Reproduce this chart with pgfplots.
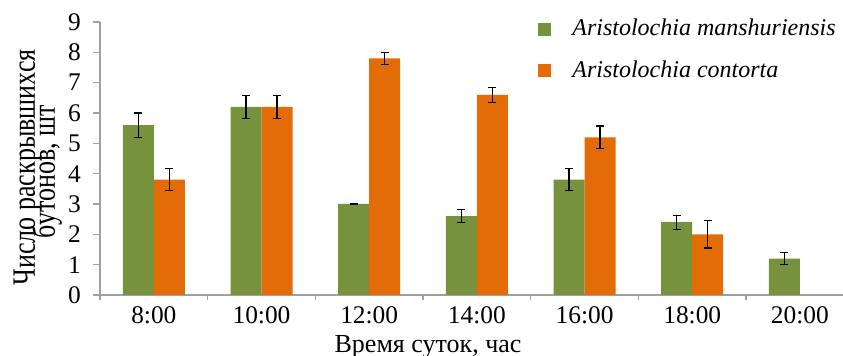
\documentclass[border=0pt]{standalone}
\usepackage{fontspec}
\setmainfont{Liberation Serif}
\newfontfamily\serif{Liberation Serif}
\usepackage{graphicx}
\usepackage{pgfplots}
\usetikzlibrary{calc}
\pgfplotsset{compat=1.18}
\definecolor{grn}{HTML}{76923C}
\definecolor{org}{HTML}{E36C09}
\definecolor{axgray}{HTML}{A0A0A0}
\begin{document}
\begin{tikzpicture}
\begin{axis}[
  name=ax,
  scale only axis, width=371.5pt, height=136.5pt,
  xmin=-0.5, xmax=6.4, ymin=0, ymax=9,
  axis lines*=left,
  axis line style={draw=axgray, line width=0.6pt},
  tick align=outside,
  ytick={0,...,9},
  xtick={0,...,6},
  xticklabels={8:00,10:00,12:00,14:00,16:00,18:00,20:00},
  minor xtick={-0.5,0.5,...,5.5},
  major x tick style={draw=none},
  minor x tick style={draw=axgray, line width=0.6pt},
  major y tick style={draw=axgray, line width=0.6pt},
  major tick length=3.5pt,
  minor tick length=2.5pt,
  /pgf/number format/assume math mode=true,
  ticklabel style={font=\serif\fontsize{12.7}{15}\selectfont},
  yticklabel style={xshift=-2.5pt},
  xticklabel style={yshift=1pt},
  label style={font=\serif\fontsize{13}{15}\selectfont},
  xlabel={Время суток, час},
  xlabel style={at={(axis description cs:0.4415,0)}, anchor=base, yshift=-29pt},
  ybar=0pt, bar width=15.5pt,
  legend style={at={(axis description cs:0.5895,1.026)}, anchor=north west, draw=none, fill=none,
    inner sep=0pt, font=\serif\fontsize{12}{14}\itshape\selectfont, row sep=7pt,
    /tikz/every odd column/.append style={column sep=8.5pt}},
  legend cell align=left,
  legend image code/.code={\path[#1,draw=none] (0pt,-3.25pt) rectangle (6.5pt,3.25pt);},
  error bars/y dir=both, error bars/y explicit,
  error bars/error bar style={black, line width=0.6pt},
  error bars/error mark options={rotate=90, mark size=2pt, black, line width=0.6pt},
]
\addplot[fill=grn, draw=none] coordinates {
  (0,5.6) +- (0,0.4)
  (1,6.2) +- (0,0.37)
  (2,3.0) +- (0,0.0)
  (3,2.6) +- (0,0.22)
  (4,3.8) +- (0,0.36)
  (5,2.4) +- (0,0.23)
  (6,1.2) +- (0,0.2)
};
\addplot[fill=org, draw=none] coordinates {
  (0,3.8) +- (0,0.36)
  (1,6.2) +- (0,0.37)
  (2,7.8) +- (0,0.2)
  (3,6.6) +- (0,0.25)
  (4,5.2) +- (0,0.37)
  (5,2.0) +- (0,0.45)
};
\legend{Aristolochia manshuriensis, Aristolochia contorta}
\end{axis}
\node[rotate=90, anchor=base, inner sep=0pt, font=\serif\fontsize{13}{15}\selectfont]
  at ($(ax.south west)!0.467!(ax.north west) + (-32.5pt,0)$) {\scalebox{1}[1.25]{Число раскрывшихся}};
\node[rotate=90, anchor=base, inner sep=0pt, font=\serif\fontsize{13}{15}\selectfont]
  at ($(ax.south west)!0.452!(ax.north west) + (-22.5pt,0)$) {\scalebox{1}[1.25]{бутонов, шт}};
\pgfresetboundingbox
\path[use as bounding box] (-50pt,-30.5pt) rectangle (371.5pt,147.5pt);
\end{tikzpicture}
\end{document}
